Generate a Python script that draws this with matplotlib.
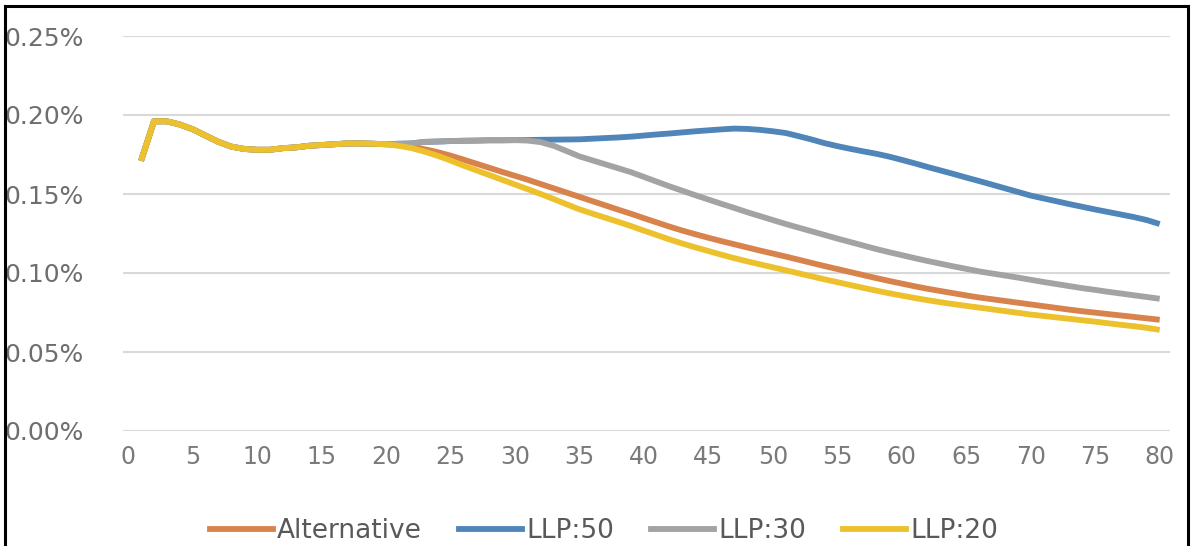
import matplotlib
matplotlib.use("Agg")
import matplotlib.pyplot as plt
from matplotlib.lines import Line2D
from matplotlib.ticker import FuncFormatter

# ---------------- data ----------------
x_values = list(range(1, 81))

common_1_20 = [0.171, 0.196, 0.196, 0.194, 0.191, 0.187, 0.183, 0.180, 0.1785, 0.178,
               0.178, 0.179, 0.1795, 0.1805, 0.181, 0.1815, 0.182, 0.182, 0.1818, 0.1815]

alternative_21_80 = [0.1808, 0.1797, 0.1783, 0.1765, 0.1743, 0.1718, 0.1692, 0.1666, 0.1640, 0.1615,
                     0.1590, 0.1563, 0.1536, 0.1509, 0.1482, 0.1455, 0.1428, 0.1401, 0.1375, 0.1347,
                     0.1320, 0.1293, 0.1268, 0.1245, 0.1223, 0.1202, 0.1182, 0.1162, 0.1142, 0.1123,
                     0.1104, 0.1084, 0.1064, 0.1044, 0.1025, 0.1006, 0.0987, 0.0968, 0.0950, 0.0933,
                     0.0916, 0.0900, 0.0886, 0.0872, 0.0858, 0.0845, 0.0834, 0.0823, 0.0812, 0.0801,
                     0.0790, 0.0779, 0.0768, 0.0758, 0.0749, 0.0740, 0.0731, 0.0722, 0.0713, 0.0704]

llp50_21_80 = [0.1818, 0.1820, 0.1830, 0.1832, 0.1835, 0.1837, 0.1838, 0.1840, 0.1840, 0.1841,
               0.1842, 0.1843, 0.1844, 0.1845, 0.1846, 0.1850, 0.1854, 0.1858, 0.1863, 0.1870,
               0.1877, 0.1883, 0.1890, 0.1897, 0.1903, 0.1909, 0.1914, 0.1912, 0.1906, 0.1897,
               0.1886, 0.1866, 0.1845, 0.1822, 0.1803, 0.1786, 0.1770, 0.1755, 0.1737, 0.1716,
               0.1694, 0.1671, 0.1649, 0.1627, 0.1604, 0.1582, 0.1559, 0.1536, 0.1513, 0.1490,
               0.1472, 0.1454, 0.1436, 0.1419, 0.1402, 0.1386, 0.1370, 0.1354, 0.1335, 0.1310]

llp30_21_80 = [0.1818, 0.1820, 0.1830, 0.1832, 0.1835, 0.1837, 0.1838, 0.1840, 0.1840, 0.1841,
               0.1838, 0.1828, 0.1805, 0.1772, 0.1738, 0.1713, 0.1688, 0.1663, 0.1638, 0.1608,
               0.1578, 0.1548, 0.1520, 0.1492, 0.1465, 0.1438, 0.1412, 0.1385, 0.1360, 0.1335,
               0.1310, 0.1287, 0.1264, 0.1241, 0.1218, 0.1196, 0.1174, 0.1152, 0.1132, 0.1113,
               0.1094, 0.1076, 0.1059, 0.1042, 0.1026, 0.1010, 0.0997, 0.0984, 0.0971, 0.0957,
               0.0943, 0.0930, 0.0917, 0.0904, 0.0893, 0.0881, 0.0870, 0.0859, 0.0848, 0.0837]

llp20_21_80 = [0.1805, 0.1790, 0.1768, 0.1742, 0.1712, 0.1680, 0.1650, 0.1620, 0.1590, 0.1560,
               0.1530, 0.1500, 0.1468, 0.1435, 0.1403, 0.1376, 0.1350, 0.1324, 0.1297, 0.1268,
               0.1240, 0.1212, 0.1186, 0.1162, 0.1139, 0.1116, 0.1094, 0.1074, 0.1055, 0.1036,
               0.1017, 0.0998, 0.0979, 0.0960, 0.0942, 0.0924, 0.0906, 0.0889, 0.0872, 0.0857,
               0.0842, 0.0828, 0.0815, 0.0803, 0.0792, 0.0781, 0.0770, 0.0759, 0.0748, 0.0737,
               0.0728, 0.0719, 0.0710, 0.0701, 0.0692, 0.0682, 0.0672, 0.0663, 0.0653, 0.0640]

series_names = ["Alternative", "LLP:50", "LLP:30", "LLP:20"]
series_values = [common_1_20 + alternative_21_80,
                 common_1_20 + llp50_21_80,
                 common_1_20 + llp30_21_80,
                 common_1_20 + llp20_21_80]
series_colors = ["#D8824C", "#4F85B8", "#A3A3A3", "#EDC12C"]

x_ticks = list(range(0, 81, 5))
y_ticks = [0.00, 0.05, 0.10, 0.15, 0.20, 0.25]

# ---------------- figure ----------------
W, H = 1193, 546
fig = plt.figure(figsize=(W / 100, H / 100), dpi=100)
ax = fig.add_axes([123 / W, 1 - 431 / H, (1170 - 123) / W, (431 - 36) / H])

for name, vals, col in zip(series_names, series_values, series_colors):
    ax.plot(x_values, vals, color=col, lw=4.2, solid_capstyle="butt",
            solid_joinstyle="round", label=name)

ax.set_xlim(-0.4, 80.8)
ax.set_ylim(0, 0.25)
ax.set_xticks(x_ticks)
ax.set_yticks(y_ticks)
ax.yaxis.set_major_formatter(FuncFormatter(lambda v, p: f"{v:.2f}%"))
ax.grid(axis="y", color="#D9D9D9", lw=1.5)
ax.set_axisbelow(True)
for s in ax.spines.values():
    s.set_visible(False)
ax.tick_params(axis="y", length=0, pad=28, labelsize=18, labelcolor="#6E6E6E")
ax.tick_params(axis="x", length=0, pad=10, labelsize=17, labelcolor="#7A7A7A")

handles = [Line2D([], [], color=c, lw=4.2) for c in series_colors]
leg = fig.legend(handles, series_names, loc="center", bbox_to_anchor=(604 / W, 1 - 531 / H),
                 ncol=4, frameon=False, fontsize=19, handlelength=2.4, handletextpad=0.15,
                 columnspacing=1.4, labelcolor="#595959", borderpad=0)

# outer frame
fr = dict(color="black", lw=2.2, transform=fig.transFigure, clip_on=False)
fig.add_artist(Line2D([5 / W, 5 / W], [0, 1 - 6 / H], **fr))
fig.add_artist(Line2D([5 / W, 1188 / W], [1 - 6 / H, 1 - 6 / H], **fr))
fig.add_artist(Line2D([1188 / W, 1188 / W], [0, 1 - 6 / H], **fr))

fig.savefig("out.png", dpi=100)
